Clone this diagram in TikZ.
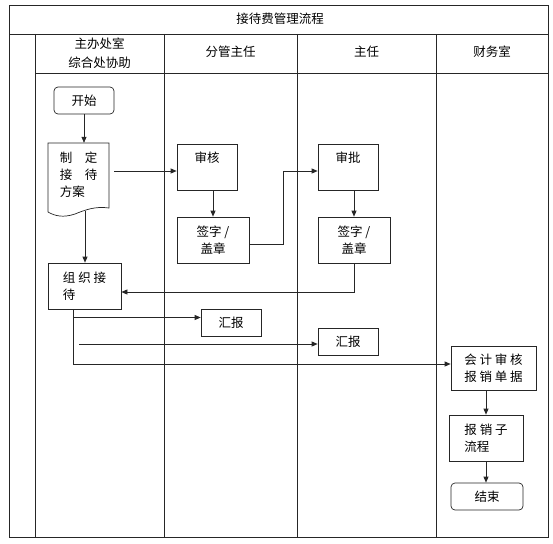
\documentclass[tikz,border=0pt]{standalone}
\usepackage{fontspec}
\setmainfont{Noto Sans CJK SC}
\usetikzlibrary{arrows.meta,calc}

\begin{document}
\begin{tikzpicture}[x=1pt, y=-1pt, >={Triangle[length=6pt,width=5pt]},
    every node/.style={font=\fontsize{12.5}{17}\selectfont, align=center},
    thinline/.style={line width=0.7pt, draw=black!85},
    box/.style={thinline, rectangle, minimum width=60pt, minimum height=46pt},
    roundbox/.style={box, rounded corners=4pt, minimum height=27pt},
    flow/.style={thinline, ->}]
    \useasboundingbox (0,0) rectangle (553,543);

    % table frame and lanes
    \draw[thinline] (9,5) rectangle (548,537);
    \draw[thinline] (9,34) -- (548,34);
    \draw[thinline] (35,73) -- (548,73);
    \foreach \lx in {35,164,297,436}
        \draw[thinline] (\lx,34) -- (\lx,537);

    \node (title) at (280,19) {接待费管理流程};
    \node[font=\fontsize{12.5}{19}\selectfont] (hdzhuban) at (99.5,53) {主办处室\\综合处协助};
    \node (hdfenguan) at (230.5,52) {分管主任};
    \node (hdzhuren) at (366.5,52) {主任};
    \node (hdcaiwu) at (492,52) {财务室};

    % first lane
    \node[roundbox] (start) at (84,100.5) {开始};
    \draw[thinline] (48,212) -- (48,143) -- (109,143) -- (109,208)
        .. controls (95,206) and (85,210) .. (75,214)
        .. controls (63,218) and (55,216) .. (48,212);
    \node[minimum width=61pt, minimum height=64pt, align=left] (plan) at (78.5,175)
        {制\quad 定\\接\quad 待\\方案};
    \coordinate (planwave) at (85,211);
    \node[box, minimum width=73pt, align=left] (zuzhi) at (84.5,286) {组 织 接\\待};

    % second and third lane
    \node[box, text height=10pt, text depth=20pt] (shenhe) at (207,167) {审核};
    \node[box, minimum width=72pt] (qianzia) at (213,240) {签字 /\\盖章};
    \node[box, text height=10pt, text depth=20pt] (shenpi) at (348,167) {审批};
    \node[box, minimum width=72pt] (qianzib) at (354,240) {签字 /\\盖章};
    \node[roundbox, rounded corners=0pt] (huibaoa) at (231,322.5) {汇报};
    \node[roundbox, rounded corners=0pt] (huibaob) at (348,341.5) {汇报};

    % finance lane
    \node[box, minimum width=85pt, minimum height=44pt] (kuaiji) at (493.5,368)
        {会 计 审 核\\报 销 单 据};
    \node[box, minimum width=74pt, align=left] (baoxiao) at (486,438) {报 销 子\\流程};
    \node[roundbox, minimum width=72pt] (jieshu) at (487,496.5) {结束};

    % connectors
    \draw[flow] (start.south) -- (start.south |- plan.north);
    \coordinate (planout) at ($(plan.east)+(5,-4)$);
    \draw[flow] (planout) -- (planout -| shenhe.west);
    \draw[flow] (planwave) -- (planwave |- zuzhi.north);
    \draw[flow] (qianzia.north |- shenhe.south) -- (qianzia.north);
    \draw[flow] ($(qianzia.east)+(0,4)$) -- ++(34,0) |- ($(shenpi.west)+(0,4)$);
    \draw[flow] (shenpi.south -| qianzib.north) -- (qianzib.north);
    \draw[flow] (qianzib.south) |- ($(zuzhi.east)+(0,6)$);

    \coordinate (trunk) at ($(zuzhi.south)+(-11,0)$);
    \draw[flow] (trunk) |- ($(huibaoa.west)+(0,-5)$);
    \draw[flow] (trunk) |- ($(kuaiji.west)+(0,-4)$);
    \coordinate (hbstart) at (79,344);
    \draw[flow] (hbstart) -- (hbstart -| huibaob.west);

    \draw[flow] (kuaiji.south -| baoxiao.north) -- (baoxiao.north);
    \draw[flow] (baoxiao.south) -- (baoxiao.south |- jieshu.north);
\end{tikzpicture}
\end{document}
